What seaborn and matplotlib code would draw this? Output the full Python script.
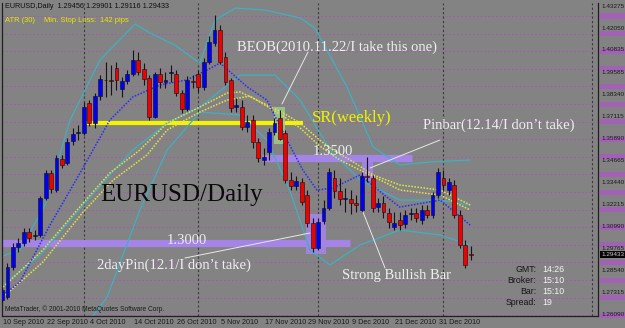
import matplotlib
matplotlib.use("Agg")
import matplotlib.pyplot as plt
from matplotlib.lines import Line2D
from matplotlib.patches import Rectangle
import numpy as np
import pandas as pd
import seaborn as sns

# ---------------- data ----------------
dates = pd.bdate_range("2010-09-10", periods=87)

opens = [1.2691, 1.2707, 1.2874, 1.2986, 1.3008, 1.3069, 1.3047, 1.3053, 1.3259, 1.3398,
         1.3303, 1.3476, 1.3453, 1.3576, 1.3620, 1.3620, 1.3788, 1.3676, 1.3827, 1.3916,
         1.3916, 1.3982, 1.3866, 1.3910, 1.3949, 1.4027, 1.3977, 1.3927, 1.3710, 1.3949,
         1.3904, 1.3954, 1.3949, 1.3843, 1.3754, 1.3910, 1.3949, 1.3877, 1.4016, 1.4122,
         1.4194, 1.4044, 1.3916, 1.3765, 1.3765, 1.3654, 1.3693, 1.3570, 1.3470, 1.3515,
         1.3626, 1.3704, 1.3620, 1.3359, 1.3325, 1.3348, 1.3275, 1.3119, 1.2980, 1.3130,
         1.3203, 1.3370, 1.3298, 1.3253, 1.3253, 1.3231, 1.3192, 1.3381, 1.3370, 1.3208,
         1.3231, 1.3175, 1.3097, 1.3136, 1.3114, 1.3169, 1.3175, 1.3136, 1.3192, 1.3164,
         1.3275, 1.3370, 1.3303, 1.3331, 1.3164, 1.2997, 1.29456]
highs = [1.2763, 1.2897, 1.3008, 1.3036, 1.3091, 1.3091, 1.3080, 1.3270, 1.3414, 1.3414,
         1.3498, 1.3498, 1.3593, 1.3648, 1.3665, 1.3793, 1.3804, 1.3843, 1.3943, 1.4016,
         1.3999, 1.4016, 1.3932, 1.3971, 1.4083, 1.4071, 1.4010, 1.3943, 1.3960, 1.3982,
         1.3960, 1.3999, 1.3971, 1.3860, 1.3938, 1.3943, 1.3971, 1.4038, 1.4161, 1.4277,
         1.4222, 1.4071, 1.3927, 1.3815, 1.3804, 1.3721, 1.3721, 1.3593, 1.3537, 1.3648,
         1.3704, 1.3749, 1.3637, 1.3403, 1.3381, 1.3370, 1.3303, 1.3147, 1.3147, 1.3247,
         1.3425, 1.3414, 1.3370, 1.3314, 1.3303, 1.3275, 1.3403, 1.3487, 1.3387, 1.3259,
         1.3270, 1.3203, 1.3181, 1.3181, 1.3192, 1.3203, 1.3203, 1.3220, 1.3220, 1.3292,
         1.3425, 1.3414, 1.3370, 1.3359, 1.3192, 1.3025, 1.29901]
lows = [1.2680, 1.2696, 1.2858, 1.2958, 1.2991, 1.3013, 1.3025, 1.3041, 1.3247, 1.3286,
        1.3292, 1.3425, 1.3442, 1.3554, 1.3581, 1.3609, 1.3659, 1.3648, 1.3804, 1.3821,
        1.3832, 1.3860, 1.3821, 1.3893, 1.3938, 1.3943, 1.3888, 1.3693, 1.3704, 1.3871,
        1.3871, 1.3904, 1.3827, 1.3732, 1.3743, 1.3871, 1.3849, 1.3860, 1.4005, 1.4105,
        1.4005, 1.3888, 1.3737, 1.3737, 1.3637, 1.3626, 1.3537, 1.3459, 1.3442, 1.3470,
        1.3609, 1.3581, 1.3342, 1.3303, 1.3303, 1.3220, 1.3097, 1.2958, 1.2969, 1.3114,
        1.3192, 1.3259, 1.3220, 1.3181, 1.3170, 1.3181, 1.3181, 1.3348, 1.3181, 1.3181,
        1.3147, 1.3091, 1.3080, 1.3080, 1.3091, 1.3136, 1.3125, 1.3114, 1.3147, 1.3147,
        1.3259, 1.3303, 1.3275, 1.3147, 1.2980, 1.2869, 1.29116]
closes = [1.2746, 1.2874, 1.2986, 1.3008, 1.3069, 1.3036, 1.3053, 1.3259, 1.3398, 1.3309,
          1.3481, 1.3442, 1.3570, 1.3615, 1.3626, 1.3765, 1.3676, 1.3827, 1.3921, 1.3913,
          1.3910, 1.3916, 1.3910, 1.3949, 1.4027, 1.3960, 1.3921, 1.3710, 1.3949, 1.3904,
          1.3916, 1.3960, 1.3843, 1.3754, 1.3916, 1.3904, 1.3877, 1.4016, 1.4127, 1.4194,
          1.4016, 1.3904, 1.3760, 1.3776, 1.3654, 1.3682, 1.3570, 1.3481, 1.3487, 1.3626,
          1.3676, 1.3587, 1.3359, 1.3325, 1.3353, 1.3236, 1.3119, 1.2980, 1.3125, 1.3203,
          1.3403, 1.3298, 1.3253, 1.3259, 1.3231, 1.3220, 1.3381, 1.3376, 1.3203, 1.3231,
          1.3181, 1.3125, 1.3119, 1.3108, 1.3164, 1.3175, 1.3147, 1.3192, 1.3164, 1.3275,
          1.3403, 1.3331, 1.3348, 1.3164, 1.2997, 1.2886, 1.29433]

# indicator lines: (bar position, price)
bb_upper_x = [0.2, 3.3, 7.9, 12.5, 18.0, 24.4, 27.2, 31.7, 36.3, 39.1, 42.8, 48.3, 54.7, 57.4, 63.3, 68.1, 73.0, 78.5, 85.9]
bb_upper_y = [1.2936, 1.2969, 1.3220, 1.3693, 1.4027, 1.4227, 1.4177, 1.4110, 1.4010, 1.4250, 1.4316, 1.4305, 1.4261, 1.4205, 1.3877, 1.3543, 1.3442, 1.3459, 1.3470]
bb_mid_x = [0.2, 7.0, 14.9, 19.8, 24.0, 30.3, 36.3, 43.7, 50.1, 54.7, 60.2, 65.7, 73.0, 80.4, 85.9]
bb_mid_y = [1.2774, 1.2941, 1.3220, 1.3387, 1.3526, 1.3676, 1.3765, 1.3943, 1.3943, 1.3804, 1.3526, 1.3359, 1.3247, 1.3247, 1.3220]
bb_low_x = [16.1, 19.3, 25.3, 30.3, 36.3, 43.7, 48.6, 52.8, 56.5, 60.2, 65.7, 73.0, 80.4, 85.9]
bb_low_y = [1.2579, 1.2707, 1.3192, 1.3526, 1.3737, 1.3721, 1.3581, 1.3303, 1.2969, 1.2886, 1.2997, 1.3080, 1.3053, 1.2997]
ma_fast_x = [0.2, 3.3, 8.8, 13.8, 19.8, 24.0, 29.0, 33.9, 37.6, 40.0, 45.0, 48.6, 52.3, 55.2, 57.8, 60.7, 65.7, 70.6, 73.0, 80.4, 85.9]
ma_fast_y = [1.2718, 1.2791, 1.3108, 1.3370, 1.3693, 1.3821, 1.3888, 1.3916, 1.3971, 1.4010, 1.3877, 1.3804, 1.3581, 1.3414, 1.3303, 1.3314, 1.3387, 1.3264, 1.3208, 1.3247, 1.3108]
ma_slow1_x = [0.2, 7.5, 14.9, 19.8, 25.3, 30.3, 36.3, 41.3, 43.7, 51.6, 54.7, 58.3, 60.7, 63.9, 68.1, 73.0, 80.4, 85.9]
ma_slow1_y = [1.2763, 1.2969, 1.3231, 1.3398, 1.3526, 1.3676, 1.3765, 1.3843, 1.3849, 1.3732, 1.3676, 1.3581, 1.3526, 1.3470, 1.3387, 1.3331, 1.3303, 1.3220]
ma_slow2_x = [0.2, 7.5, 14.9, 20.4, 26.6, 30.3, 36.3, 41.3, 45.5, 51.6, 54.7, 58.3, 62.0, 65.7, 69.4, 73.0, 80.4, 85.9]
ma_slow2_y = [1.2707, 1.2902, 1.3181, 1.3359, 1.3498, 1.3637, 1.3737, 1.3804, 1.3826, 1.3715, 1.3648, 1.3548, 1.3470, 1.3414, 1.3359, 1.3303, 1.3275, 1.3192]

price_labels = [1.43275, 1.42050, 1.40835, 1.39585, 1.38340, 1.37115, 1.35890, 1.34665,
                1.33440, 1.32215, 1.30990, 1.29765, 1.28540, 1.27315, 1.26090]
last_price = 1.29433
level_1300 = 1.3010
level_1350 = 1.3482
sr_weekly = 1.3678

# ---------------- figure ----------------
W, H = 625, 328
BG = "#838383"
sns.set_style("white")
plt.rcParams["font.family"] = ["DejaVu Sans"]
fig = plt.figure(figsize=(W / 100, H / 100), dpi=100, facecolor=BG)
ax = fig.add_axes([2 / W, 12 / H, 596 / W, 313 / H])
ax.set_facecolor(BG)
ax.set_xlim(0, 109.36)
ax.set_ylim(1.26015, 1.43443)

def fp(x, y):
    return (x / W, 1 - y / H)

# magenta dotted grid (+ its marks in the price scale column)
for py in np.arange(16, 316, 17.6):
    yv = ax.transData.inverted().transform((0, (H - py)))[1]
    ax.axhline(yv, color="#b44cc4", lw=0.7, ls=(0, (1.5, 2.5)), zorder=0)
    fig.add_artist(Rectangle((600 / W, (H - py - 2.5) / H), 25 / W, 5 / H,
                             color="#a85ac0", alpha=0.85, lw=0, zorder=0))

# month separators
for xs in [15, 36, 58, 81, 108.3]:
    ax.axvline(xs, color="#3a3a3a", lw=0.8, ls=(0, (2, 2)), zorder=0)

# level bands and boxes
ax.hlines(level_1300, 0, 63.9, color="#a484e6", lw=5.2, zorder=1)
ax.hlines(level_1350, 47.7, 75.2, color="#a484e6", lw=5.2, zorder=1)
ax.hlines(sr_weekly, 15.2, 55.2, color="#f4f400", lw=3.0, zorder=1)
idx = np.arange(len(dates))
ax.add_patch(Rectangle((55.8, 1.2945), 3.6, 0.0225, color="#a484e6", alpha=0.9, zorder=1, lw=0))
ax.add_patch(Rectangle((66.1, 1.3355), 1.9, 0.0145, color="#a484e6", alpha=0.9, zorder=1, lw=0))
ax.add_patch(Rectangle((50.0, 1.3560), 2.0, 0.0205, color="#9ccc8c", alpha=0.85, zorder=1, lw=0))

# indicator lines with seaborn
sns.lineplot(x=bb_upper_x, y=bb_upper_y, ax=ax, color="#3fb0c4", lw=0.9, zorder=2)
sns.lineplot(x=bb_mid_x, y=bb_mid_y, ax=ax, color="#3fb0c4", lw=0.9, zorder=2)
sns.lineplot(x=bb_low_x, y=bb_low_y, ax=ax, color="#3fb0c4", lw=0.9, zorder=2)
sns.lineplot(x=ma_slow1_x, y=ma_slow1_y, ax=ax, color="#e6e640", lw=1.1, ls=(0, (1, 1)), zorder=2)
sns.lineplot(x=ma_slow2_x, y=ma_slow2_y, ax=ax, color="#e6e640", lw=1.1, ls=(0, (1, 1)), zorder=2)
sns.lineplot(x=ma_fast_x, y=ma_fast_y, ax=ax, color="#2a2aff", lw=1.1, ls=(0, (1, 1)), zorder=2)

# candles
o = np.array(opens); c = np.array(closes); h = np.array(highs); l = np.array(lows)
ax.vlines(idx, l, h, color="#151515", lw=0.8, zorder=3)
bull = c >= o
body_bottom = np.minimum(o, c)
body_h = np.maximum(np.abs(c - o), 0.00018)
ax.bar(idx[bull], body_h[bull], bottom=body_bottom[bull], width=0.7,
       color="#0000f4", edgecolor="#101010", lw=0.4, zorder=4)
ax.bar(idx[~bull], body_h[~bull], bottom=body_bottom[~bull], width=0.7,
       color="#f00000", edgecolor="#101010", lw=0.4, zorder=4)

# axes styling
ax.spines["top"].set_visible(False)
for s in ["left", "right", "bottom"]:
    ax.spines[s].set_color("#202020")
    ax.spines[s].set_linewidth(0.9)
ax.set_xticks(idx[::8])
ax.set_xticklabels([])
ax.tick_params(axis="x", length=3, color="#202020", width=0.7)
ax.set_yticks([])
ax.set_xlabel(""); ax.set_ylabel("")

for i in idx[::8]:
    xpix = ax.transData.transform((i, 0))[0]
    d = dates[i]
    fig.text(xpix / W + 1 / W, fp(0, 322)[1], f"{d.day} {d.strftime('%b %Y')}",
             fontsize=5.2, color="#1a1a1a", va="center", ha="left", family="Liberation Sans")

for p in price_labels:
    ypix = ax.transData.transform((0, p))[1]
    fig.text(601 / W, ypix / H, f"{p:.5f}", fontsize=4.6, color="#1a1a1a",
             va="center", ha="left", family="Liberation Sans")
ypl = ax.transData.transform((0, last_price))[1]
fig.text(601 / W, ypl / H, f"{last_price:.5f}", fontsize=4.6, color="#c8c8c8",
         va="center", ha="left", family="Liberation Sans",
         bbox=dict(boxstyle="square,pad=0.12", fc="#050505", ec="none"))

# header texts
fig.text(*fp(5, 7), "EURUSD,Daily  1.29456 1.29901 1.29116 1.29433", fontsize=5.2,
         color="#101010", va="center", family="Liberation Sans")
fig.text(*fp(5, 20), "ATR (30)", fontsize=5.4, color="#e8e800", va="center", family="Liberation Sans")
fig.text(*fp(44, 20), "Min. Stop Loss:", fontsize=5.4, color="#e8e800", va="center", family="Liberation Sans")
fig.text(*fp(100, 20), "142 pips", fontsize=5.4, color="#e8e800", va="center", family="Liberation Sans")
fig.text(*fp(5, 309), "MetaTrader, \u00a9 2001-2010 MetaQuotes Software Corp.", fontsize=4.8,
         color="#1a1a1a", va="center", family="Liberation Sans")

# annotations
serif = "Liberation Serif"
wt = "#eeeeee"
fig.text(*fp(237, 47), "BEOB(2010.11.22/I take this one)", fontsize=10.5, color=wt, va="center", family=serif)
fig.text(*fp(312, 118), "SR(weekly)", fontsize=12, color="#f0f000", va="center", family=serif)
fig.text(*fp(423, 125), "Pinbar(12.14/I don\u2019t take)", fontsize=10.5, color=wt, va="center", family=serif)
fig.text(*fp(313, 151), "1.3500", fontsize=10.5, color=wt, va="center", family=serif)
fig.text(*fp(167, 240), "1.3000", fontsize=10.5, color=wt, va="center", family=serif)
fig.text(*fp(97, 265), "2dayPin(12.1/I don\u2019t take)", fontsize=10.5, color=wt, va="center", family=serif)
fig.text(*fp(342, 276), "Strong Bullish Bar", fontsize=10.5, color=wt, va="center", family=serif)
fig.text(*fp(100, 195), "EURUSD/Daily", fontsize=18, color="#0a0a0a", va="center", family=serif)

for (x0, y0, x1, y1) in [(308, 52, 282, 104), (370, 168, 440, 140), (185, 258, 310, 233), (363, 212, 385, 268)]:
    a = fp(x0, y0); b = fp(x1, y1)
    fig.add_artist(Line2D([a[0], b[0]], [a[1], b[1]], color="#e8e8e8", lw=0.7))

# GMT block
for k, (lab, val) in enumerate([("GMT:", "14:26"), ("Broker:", "15:10"), ("Bar:", "15:10"), ("Spread:", "19")]):
    yy = 270 + k * 10.7
    fig.text(*fp(536, yy), lab, fontsize=6.3, color="#151515", va="center", ha="right", family="Liberation Sans")
    fig.text(*fp(542, yy), val, fontsize=6.3, color="#f4f4f4", va="center", ha="left", family="Liberation Sans")

fig.savefig("out.png", dpi=100, facecolor=BG)
